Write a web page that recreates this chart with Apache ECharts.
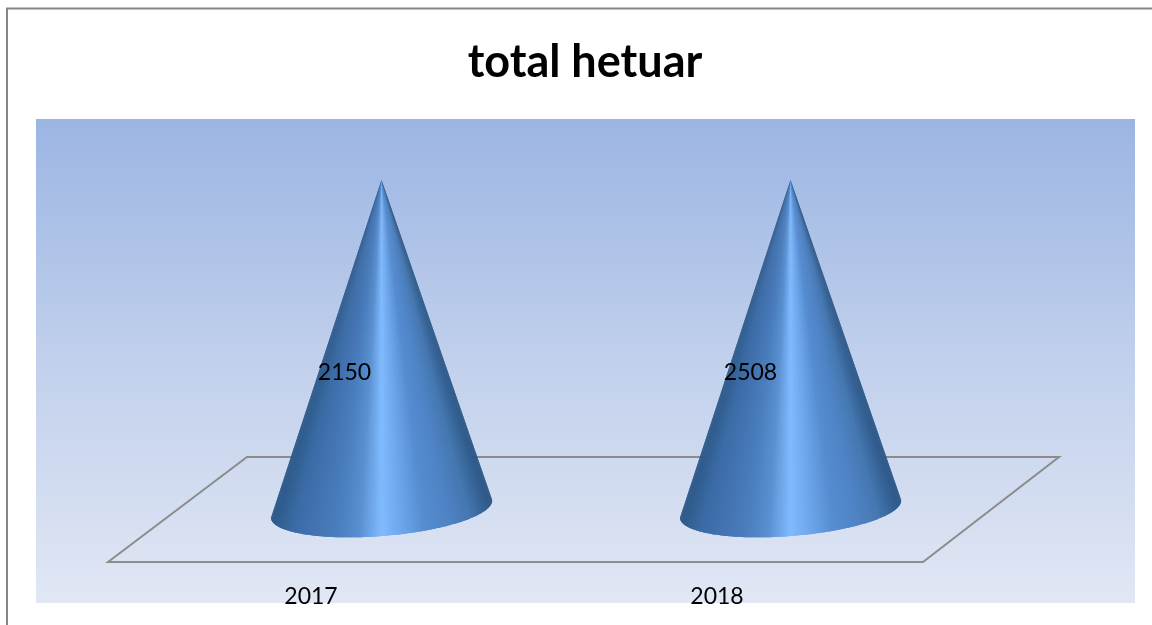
<!DOCTYPE html>
<html>
<head>
<meta charset="utf-8">
<style>
html, body { margin: 0; padding: 0; background: #fff; }
#chart { width: 1152px; height: 625px; }
</style>
<script src="https://cdn.jsdelivr.net/npm/echarts@6/dist/echarts.min.js"></script>
</head>
<body>
<div id="chart"></div>
<script>
const years = ['2017', '2018']
const hectares = [2150, 2508]
// 100% stacked cones in the original: both reach the top whatever the value
const shares = [100, 100]

const frameColor = '#868686'
const floorColor = '#8c8c8c'
const coneShades = ['#2c5888', '#3c6ca6', '#4474b2', '#4a7ebe', '#5a90d0', '#80bbff', '#6ba4e8', '#558cd0', '#4f84c6', '#4577b0', '#2b5685']
const baseTilt = 0.081
const baseA = 111
const baseB = 27

const chart = echarts.init(document.getElementById('chart'))

const renderCone = (params, api) => {
	const i = api.value(0)
	const base = api.coord([i, 0])
	const apex = api.coord([i, api.value(1)])
	const mid = api.coord([i, api.value(1) / 2])
	const cos = Math.cos(baseTilt)
	const sin = Math.sin(baseTilt)
	const rim = []
	for (let s = 0; s <= 160; s++) {
		const t = Math.PI - Math.PI * s / 160
		const ca = baseA * Math.cos(t)
		const cb = baseB * Math.sin(t)
		rim.push([base[0] + ca * cos + cb * sin, base[1] - ca * sin + cb * cos])
	}
	const children = []
	// each slice runs under the next one so no seams show between them
	for (let s = 0; s < rim.length - 1; s++) {
		const u = (rim[s][0] + rim[s + 1][0]) / 2
		const color = echarts.color.lerp(Math.min(1, Math.max(0, (u - base[0] + baseA) / (2 * baseA))), coneShades)
		const points = [apex, rim[s], rim[s + 1]]
		if (rim[s + 2]) points.push(rim[s + 2])
		children.push({
			type: 'polygon',
			shape: { points },
			style: { fill: color }
		})
	}
	children.push({
		type: 'text',
		z2: 10,
		style: {
			x: base[0] - 37 - 3 * i,
			y: mid[1] + 28,
			text: String(hectares[i]),
			fill: '#000',
			font: '23px Lato',
			align: 'center',
			verticalAlign: 'middle'
		}
	})
	return { type: 'group', children }
}

chart.setOption({
	animation: false,
	backgroundColor: '#fff',
	title: {
		text: 'total hetuar',
		left: 580,
		top: 35,
		textAlign: 'center',
		textStyle: { color: '#000', fontFamily: 'Lato', fontWeight: 'bold', fontSize: 45 }
	},
	graphic: [
		{
			type: 'polyline',
			silent: true,
			shape: { points: [[7, 625], [7, 8.5], [1152, 8.5]] },
			style: { stroke: frameColor, lineWidth: 2, fill: 'none' }
		},
		{
			type: 'rect',
			silent: true,
			shape: { x: 36, y: 119, width: 1099, height: 484 },
			style: {
				fill: new echarts.graphic.LinearGradient(0, 0, 0, 1, [
					{ offset: 0, color: '#9bb5e3' },
					{ offset: 0.5, color: '#c1d0ec' },
					{ offset: 1, color: '#e1e7f4' }
				])
			}
		},
		{
			type: 'polygon',
			silent: true,
			shape: { points: [[108, 562], [247, 457], [1059, 457], [923, 562]] },
			style: { stroke: floorColor, lineWidth: 2, fill: 'none' }
		}
	],
	grid: [
		{ left: 108, width: 812, top: 457, height: 105 },
		{ left: 177, width: 818, top: 180, height: 329 }
	],
	xAxis: [
		{
			gridIndex: 0,
			type: 'category',
			data: years,
			axisLine: { show: false },
			axisTick: { show: false },
			axisLabel: { color: '#000', fontFamily: 'Lato', fontSize: 23, margin: 23 }
		},
		{ gridIndex: 1, type: 'category', data: years, show: false }
	],
	yAxis: [
		{ gridIndex: 0, type: 'value', min: 0, max: 100, show: false },
		{ gridIndex: 1, type: 'value', min: 0, max: 100, show: false }
	],
	series: [{
		type: 'custom',
		xAxisIndex: 1,
		yAxisIndex: 1,
		clip: false,
		encode: { x: 0, y: 1 },
		data: years.map((y, i) => [i, shares[i]]),
		renderItem: renderCone
	}]
})
</script>
</body>
</html>
